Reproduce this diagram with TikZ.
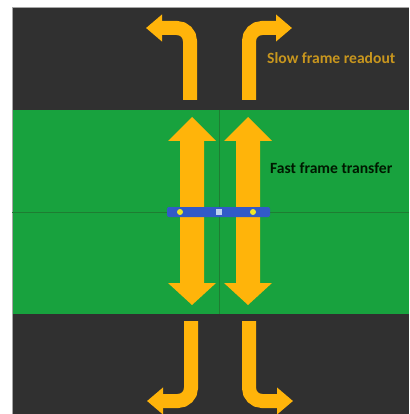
\documentclass[tikz,border=0pt]{standalone}
\usepackage{fontspec}
\setmainfont{Carlito}
\usetikzlibrary{arrows.meta}
\definecolor{darkbg}{RGB}{48,48,48}
\definecolor{chipgreen}{RGB}{24,162,62}
\definecolor{lineg}{RGB}{30,125,50}
\definecolor{amber}{RGB}{255,180,10}
\definecolor{barblue}{RGB}{50,90,200}
\definecolor{slowtxt}{RGB}{200,150,30}
\definecolor{dotyel}{RGB}{240,230,40}
\definecolor{padlight}{RGB}{190,210,240}
\tikzset{
  band/.style={fill=#1, draw=none},
  bentarrow/.style={draw=amber, line width=14pt, rounded corners=13pt,
    -{Triangle[width=26pt,length=16pt]}},
  dblarrow/.style={fill=amber, draw=none},
  label/.style={font=\bfseries\fontsize{15.6}{18}\selectfont, anchor=west, inner sep=0pt},
}
\begin{document}
\begin{tikzpicture}[x=1pt,y=-1pt]
\useasboundingbox (0,0) rectangle (409,414);
\fill[white] (0,0) rectangle (409,414);
% bands
\fill[band=darkbg] (12,7) rectangle (409,110);
\fill[band=chipgreen] (12,110) rectangle (409,314);
\fill[band=darkbg] (12,314) rectangle (409,414);
\draw[gray!70, line width=0.6pt] (12,414) -- (12,7) -- (409,7);
% divider lines
\draw[lineg, line width=1pt] (12,212) -- (409,212);
\draw[lineg, line width=1pt] (219,110) -- (219,314);
% double arrows (fast transfer)
\foreach \cx in {192,248}{
  \fill[dblarrow] (\cx,117) -- (\cx+24,141) -- (\cx+12,141) -- (\cx+12,283)
    -- (\cx+24,283) -- (\cx,305) -- (\cx-24,283) -- (\cx-12,283)
    -- (\cx-12,141) -- (\cx-24,141) -- cycle;
}
% serial register bar
\node[fill=barblue, rounded corners=2pt, minimum width=103pt, minimum height=10pt,
  inner sep=0pt] (bar) at (218.5,212) {};
\node[fill=dotyel, circle, minimum size=6pt, inner sep=0pt] (dl) at (180,212) {};
\node[fill=dotyel, circle, minimum size=6pt, inner sep=0pt] (dr) at (253,212) {};
\node[fill=padlight, minimum size=6pt, inner sep=0pt] (pad) at (219,212) {};
% bent readout arrows
\coordinate (ul0) at (190,100); \coordinate (ul1) at (190,28); \coordinate (ul2) at (146,28);
\coordinate (ur0) at (249,100); \coordinate (ur1) at (249,28); \coordinate (ur2) at (292,28);
\coordinate (ll0) at (191,321); \coordinate (ll1) at (191,401); \coordinate (ll2) at (147,401);
\coordinate (lr0) at (249,321); \coordinate (lr1) at (249,401); \coordinate (lr2) at (293,401);
\draw[bentarrow] (ul0) -- (ul1) -- (ul2);
\draw[bentarrow] (ur0) -- (ur1) -- (ur2);
\draw[bentarrow] (ll0) -- (ll1) -- (ll2);
\draw[bentarrow] (lr0) -- (lr1) -- (lr2);
% labels
\node[label, text=slowtxt] (slow) at (267,58) {Slow frame readout};
\node[label, text=black!90!green] (fast) at (270,168) {Fast frame transfer};
\end{tikzpicture}
\end{document}
